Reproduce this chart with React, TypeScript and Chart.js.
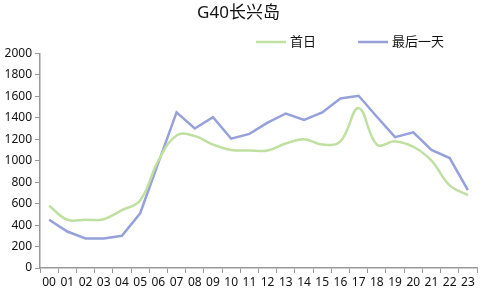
import React, { useEffect, useRef } from "react";
import { Chart, registerables } from "chart.js";

Chart.register(...registerables);

const hours = ["00","01","02","03","04","05","06","07","08","09","10","11","12","13","14","15","16","17","18","19","20","21","22","23"];
const firstDay = [580, 450, 450, 455, 540, 630, 1000, 1235, 1230, 1150, 1100, 1095, 1095, 1160, 1200, 1150, 1180, 1490, 1150, 1180, 1130, 1000, 770, 680];
const lastDay = [450, 340, 275, 275, 300, 510, 980, 1450, 1300, 1405, 1205, 1250, 1355, 1440, 1380, 1450, 1580, 1605, 1410, 1220, 1265, 1100, 1025, 725];
const yTicks = [0, 200, 400, 600, 800, 1000, 1200, 1400, 1600, 1800, 2000];
const seriesNames = ["首日", "最后一天"];
const titleText = "G40长兴岛";

const GREEN = "rgb(192,224,162)";
const BLUE = "rgb(150,160,218)";
const FONT = "'Noto Sans', 'Noto Sans CJK SC', sans-serif";

const legendPlugin = {
  id: "customLegend",
  afterDraw(chart: any) {
    const ctx = chart.ctx;
    ctx.save();
    ctx.font = `13px ${FONT}`;
    ctx.textBaseline = "middle";
    ctx.textAlign = "left";
    const y = 42;
    const starts = [256, 358];
    chart.data.datasets.forEach((ds: any, i: number) => {
      const x = starts[i];
      ctx.strokeStyle = ds.borderColor;
      ctx.lineWidth = 2.5;
      ctx.beginPath();
      ctx.moveTo(x, y);
      ctx.lineTo(x + 30, y);
      ctx.stroke();
      ctx.fillStyle = "#111";
      ctx.fillText(ds.label, x + 34, y);
    });
    ctx.restore();
  },
};

export default function App() {
  const ref = useRef<HTMLCanvasElement>(null);
  useEffect(() => {
    const chart = new Chart(ref.current!, {
      type: "line",
      data: {
        labels: hours,
        datasets: [
          { label: seriesNames[0], data: firstDay, borderColor: GREEN, backgroundColor: GREEN, borderWidth: 2.5, pointRadius: 0, tension: 0.4 },
          { label: seriesNames[1], data: lastDay, borderColor: BLUE, backgroundColor: BLUE, borderWidth: 2.5, pointRadius: 0, tension: 0 },
        ],
      },
      options: {
        animation: false,
        responsive: false,
        maintainAspectRatio: false,
        layout: { padding: { left: 0, right: 11, top: 0, bottom: 0 } },
        plugins: {
          legend: { display: false },
          tooltip: { enabled: false },
          title: {
            display: true,
            text: titleText,
            color: "#111",
            font: { family: FONT, size: 17, weight: "normal" },
            padding: { top: 3, bottom: 30 },
          },
        },
        scales: {
          x: {
            offset: true,
            grid: { display: true, drawOnChartArea: false, drawTicks: true, tickLength: 5, offset: true, color: "#999" },
            border: { display: true, color: "#999", width: 1.5 },
            ticks: { color: "#111", font: { family: FONT, size: 12 }, maxRotation: 0, autoSkip: false, padding: 2 },
            afterFit: (s: any) => { s.height = 34; },
          },
          y: {
            min: 0,
            max: 2000,
            afterBuildTicks: (s: any) => { s.ticks = yTicks.map((v) => ({ value: v })); },
            grid: { display: true, drawOnChartArea: false, drawTicks: true, tickLength: 5, color: "#999" },
            border: { display: true, color: "#999", width: 1.5 },
            ticks: { color: "#111", font: { family: FONT, size: 12 }, padding: 3, callback: (v: any) => String(v) },
            afterFit: (s: any) => { s.width = 40; },
          },
        },
      },
      plugins: [legendPlugin],
    });
    return () => chart.destroy();
  }, []);
  return (
    <div style={{ position: "fixed", left: 0, top: 0, width: 488, height: 302, background: "#fff" }}>
      <canvas ref={ref} width={488} height={302} style={{ width: 488, height: 302 }} />
    </div>
  );
}
